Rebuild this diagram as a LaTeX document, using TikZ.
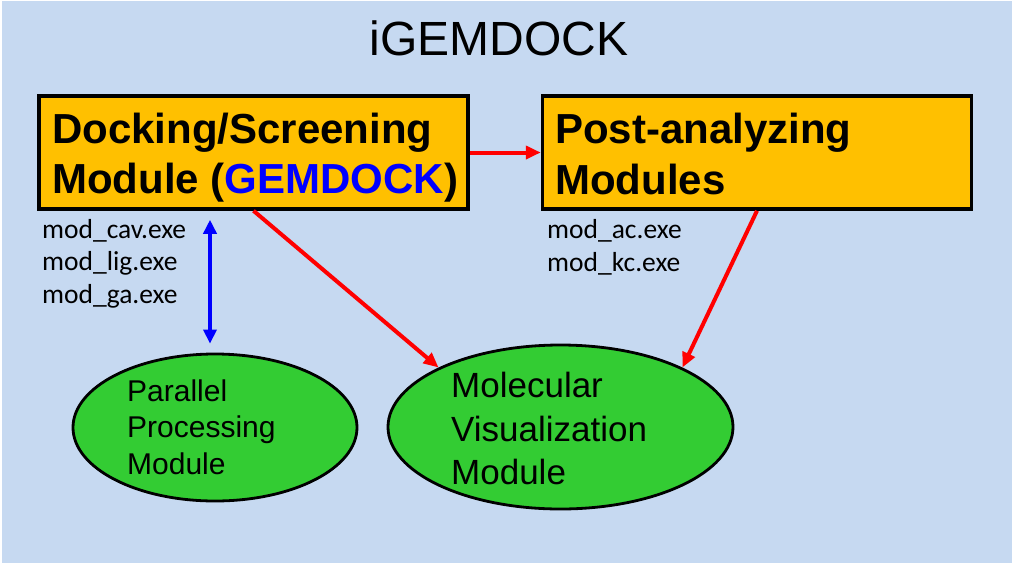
\documentclass[tikz,border=0pt]{standalone}
\usepackage{fontspec}
\setmainfont{Liberation Sans}
\newfontfamily\carl{Carlito}
\usetikzlibrary{arrows.meta,shapes.geometric}
\definecolor{bgblue}{HTML}{C6D9F1}
\definecolor{boxorange}{HTML}{FFC000}
\definecolor{ellgreen}{HTML}{33CC33}
\tikzset{
  modbox/.style={draw=black, line width=3.5pt, fill=boxorange, rectangle, minimum width=429pt, minimum height=113pt, inner sep=0pt},
  modell/.style={draw=black, line width=2.8pt, fill=ellgreen, ellipse, inner sep=0pt},
  boxtext/.style={anchor=base west, inner sep=0pt, font=\fontsize{42}{49}\selectfont\bfseries},
  ltext/.style={anchor=base west, inner sep=0pt, font=\fontsize{27.5}{32}\selectfont\carl},
  ptext/.style={anchor=base west, inner sep=0pt, font=\fontsize{30}{36}\selectfont},
  mtext/.style={anchor=base west, inner sep=0pt, font=\fontsize{35}{42}\selectfont},
  redarrow/.style={draw=red, line width=4pt, -{Triangle[length=15pt,width=13pt]}},
  bluearrow/.style={draw=blue, line width=3.5pt, {Triangle[length=14pt,width=13pt]}-{Triangle[length=14pt,width=13pt]}}
}
\begin{document}
\begin{tikzpicture}[x=1pt,y=-1pt]
\useasboundingbox (0,0) rectangle (1015,568);
\fill[white] (0,0) rectangle (1015,568);
\fill[bgblue] (2,1) rectangle (1012,563);
% title
\node[anchor=base, inner sep=0pt, font=\fontsize{48}{56}\selectfont] (title) at (499,55) {iGEMDOCK};
% boxes
\node[modbox] (dock) at (253.5,152.5) {};
\node[modbox] (post) at (757,152.5) {};
\node[boxtext] (d1) at (52,143) {Docking/Screening};
\node[boxtext] (d2) at (52,193) {Module (\textcolor{blue}{GEMDOCK})};
\node[boxtext] (p1) at (555,143) {Post-analyzing};
\node[boxtext] (p2) at (555,194) {Modules};
% labels
\node[ltext] (l1) at (42,238) {mod\_cav.exe};
\node[ltext] (l2) at (42,270.5) {mod\_lig.exe};
\node[ltext] (l3) at (42,303) {mod\_ga.exe};
\node[ltext] (l4) at (547,238) {mod\_ac.exe};
\node[ltext] (l5) at (547,271) {mod\_kc.exe};
% ellipses
\node[modell, minimum width=284pt, minimum height=147pt] (par) at (215,427.5) {};
\node[modell, minimum width=345pt, minimum height=164pt] (mol) at (560.5,427) {};
\node[ptext] (e1) at (127,401) {Parallel};
\node[ptext] (e2) at (127,437.5) {Processing};
\node[ptext] (e3) at (127,474) {Module};
\node[mtext] (m1) at (451,397) {Molecular};
\node[mtext] (m2) at (451,441) {Visualization};
\node[mtext] (m3) at (451,484) {Module};
% connectors
\draw[redarrow] (dock.east) -- (post.west);
\draw[redarrow] (dock.south) -- (mol.154);
\draw[redarrow] (post.south) -- (mol.26);
\draw[bluearrow, shorten <=9pt, shorten >=9pt] ([xshift=-5pt]par.north |- dock.south) -- ([xshift=-5pt]par.north);
\end{tikzpicture}
\end{document}
